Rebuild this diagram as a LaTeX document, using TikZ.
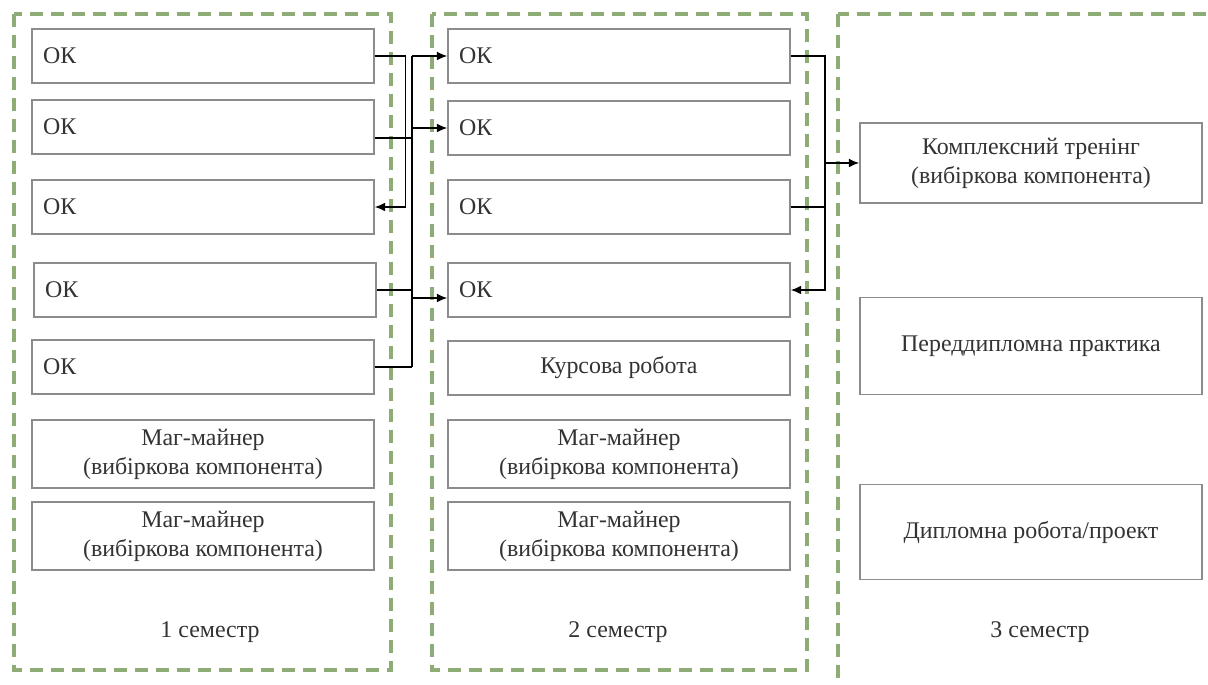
\documentclass[tikz,border=0pt]{standalone}
\usepackage{fontspec}
\setmainfont{Liberation Serif}
\usetikzlibrary{positioning}
\usetikzlibrary{arrows.meta}

\begin{document}
\begin{tikzpicture}[x=0.02cm, y=-0.02cm,
  mynode/.style={draw=boxgray, line width=0.8pt, anchor=center, minimum width=6.84cm, minimum height=1.08cm, font=\fontsize{13.6}{16.5}\selectfont, text=txtgray},
  oknode/.style={mynode, text width=6.4cm, align=left},
  twonode/.style={mynode, align=center, minimum height=1.36cm},
  semframe/.style={draw=semgreen, line width=1.8pt, dash pattern=on 0.26cm off 0.16cm},
  wire/.style={black, line width=0.8pt},
  arr/.style={wire, -{Latex[length=6pt,width=5pt]}}]

% colours
\definecolor{boxgray}{HTML}{8C8C8C}
\definecolor{txtgray}{HTML}{333333}
\definecolor{semgreen}{HTML}{8EAD76}

\clip (0,0) rectangle (1208,685);
\fill[white] (0,0) rectangle (1208,685);

%% semester frames
\draw[semframe] (14,14) rectangle (391,670);
\draw[semframe] (432,14) rectangle (807,670);
\draw[semframe] (838,14) rectangle (1240,720);

%% first semester
\node [oknode] at (203,56) (ok11) {ОК};
\node [oknode] at (203,127) (ok12) {ОК};
\node [oknode] at (203,207) (ok13) {ОК};
\node [oknode] at (205,290) (ok14) {ОК};
\node [oknode] at (203,367) (ok15) {ОК};
\node [twonode] at (203,454) (mag11) {Маг-майнер\\(вибіркова компонента)};
\node [twonode] at (203,536) (mag12) {Маг-майнер\\(вибіркова компонента)};
\node [font=\fontsize{13.6}{16.5}\selectfont, text=txtgray] at (210,632) (sem1) {1 семестр};

%% second semester
\node [oknode] at (619,56) (ok21) {ОК};
\node [oknode] at (619,128) (ok22) {ОК};
\node [oknode] at (619,207) (ok23) {ОК};
\node [oknode] at (619,290) (ok24) {ОК};
\node [mynode] at (619,368) (kurs) {Курсова робота};
\node [twonode] at (619,454) (mag21) {Маг-майнер\\(вибіркова компонента)};
\node [twonode] at (619,536) (mag22) {Маг-майнер\\(вибіркова компонента)};
\node [font=\fontsize{13.6}{16.5}\selectfont, text=txtgray] at (618,632) (sem2) {2 семестр};

%% third semester
\node [twonode,minimum height=1.6cm] at (1031,163) (kompl) {Комплексний тренінг\\(вибіркова компонента)};
\node [mynode,minimum height=1.94cm] at (1031,346) (pered) {Переддипломна практика};
\node [mynode,minimum height=1.9cm] at (1031,532) (dypl) {Дипломна робота/проект};
\node [font=\fontsize{13.6}{16.5}\selectfont, text=txtgray] at (1040,632) (sem3) {3 семестр};

%% links between 1 and 2
\coordinate (bus) at (412,0);
\coordinate (j2) at (412,138);
\coordinate (j4) at (412,298);
\draw[arr] (ok11.east) -- ++(31,0) |- (ok13.east);
\draw[wire] (bus |- ok21.west) -- (bus |- ok15.east);
\draw[wire] (ok12.east |- j2) -- (j2);
\draw[wire] (ok14.east) -- (bus |- ok14.east);
\draw[wire] (ok15.east) -- (bus |- ok15.east);
\draw[arr] (bus |- ok21.west) -- (ok21.west);
\draw[arr] (bus |- ok22.west) -- (ok22.west);
\draw[arr] (j4) -- (ok24.west |- j4);

%% links between 2 and 3
\coordinate (jr) at (825,163);
\draw[arr] (ok21.east) -- (ok21.east -| jr) |- (ok24.east);
\draw[wire] (ok23.east) -- (ok23.east -| jr);
\draw[arr] (jr) -- (kompl.west);
\end{tikzpicture}
\end{document}
